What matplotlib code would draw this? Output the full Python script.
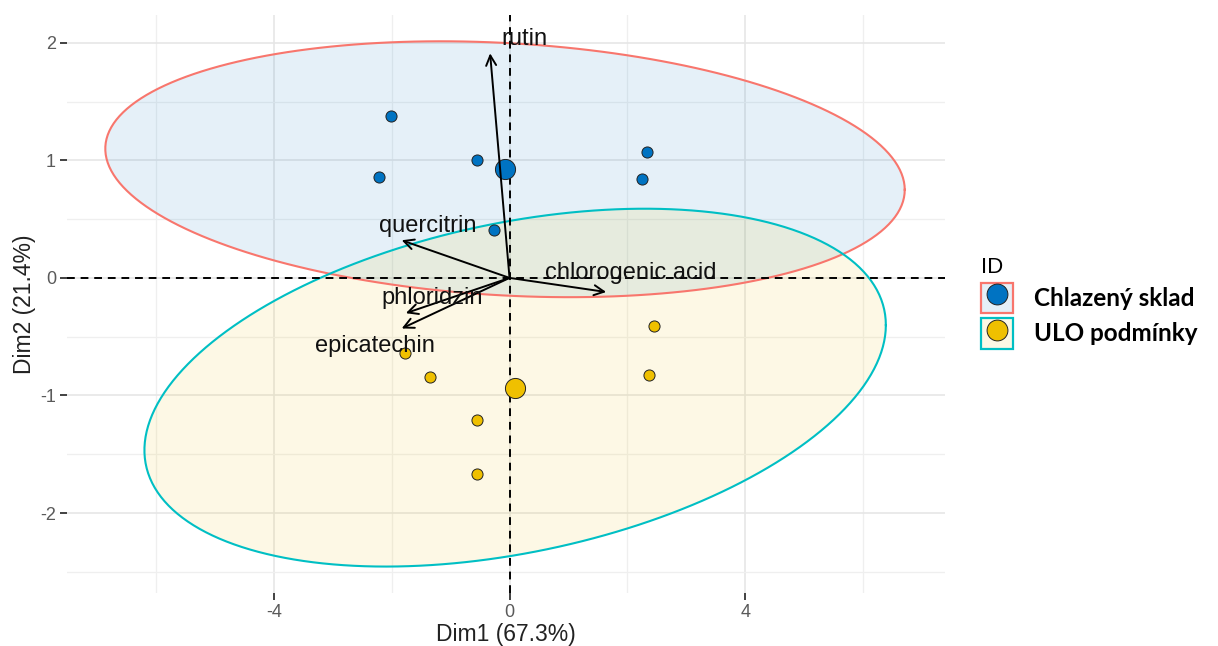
import numpy as np
import matplotlib
matplotlib.use("Agg")
import matplotlib.pyplot as plt
from matplotlib.patches import Patch
from matplotlib.lines import Line2D
from matplotlib.legend_handler import HandlerTuple

plt.rcParams["axes.unicode_minus"] = False

# skóre jednotlivých vzorků (Dim1, Dim2)
chlaz_x = [-2.02, -2.22, -0.55, -0.26, 2.34, 2.25]
chlaz_y = [1.375, 0.855, 1.00, 0.405, 1.07, 0.84]
ulo_x = [-1.77, -1.35, -0.56, -0.56, 2.45, 2.36]
ulo_y = [-0.635, -0.845, -1.21, -1.67, -0.41, -0.83]

groups = ["Chlazený sklad", "ULO podmínky"]
point_colors = ["#0073C2", "#EFC000"]
ellipse_edges = ["#F8766D", "#00BFC4"]

# proměnné (šipky) a pozice popisků
var_names = ["rutin", "quercitrin", "chlorogenic acid", "phloridzin", "epicatechin"]
var_x = [-0.33, -1.83, 1.64, -1.76, -1.83]
var_y = [1.91, 0.32, -0.12, -0.30, -0.43]
lab_x = [0.26, -1.38, 2.05, -1.32, -2.28]
lab_y = [2.03, 0.44, 0.04, -0.17, -0.58]


def norm_ellipse(x, y, level=0.95, n=200):
    x = np.asarray(x)
    y = np.asarray(y)
    dfd = len(x) - 1
    # F kvantil pro dfn = 2 v uzavřeném tvaru
    fq = dfd / 2 * ((1 - level) ** (-2 / dfd) - 1)
    radius = np.sqrt(2 * fq)
    cov = np.cov(x, y)
    chol = np.linalg.cholesky(cov)
    t = np.linspace(0, 2 * np.pi, n)
    circle = np.column_stack([np.cos(t), np.sin(t)])
    pts = radius * circle @ chol.T
    return pts[:, 0] + x.mean(), pts[:, 1] + y.mean()


fig = plt.figure(figsize=(12.18, 6.46), dpi=100)
ax = fig.add_axes([67 / 1218, 1 - 593 / 646, (945 - 67) / 1218, (593 - 15) / 646])

ax.set_xlim(-7.51, 7.39)
ax.set_ylim(-2.68, 2.236)

for s in ax.spines.values():
    s.set_visible(False)

ax.set_xticks([-4, 0, 4])
ax.set_yticks([-2, -1, 0, 1, 2])
ax.set_xticks([-6, -2, 2, 6], minor=True)
ax.set_yticks([-2.5, -1.5, -0.5, 0.5, 1.5], minor=True)
ax.grid(True, which="major", color="#E6E6E6", lw=1.2, zorder=0)
ax.grid(True, which="minor", color="#EFEFEF", lw=0.9, zorder=0)
ax.tick_params(which="major", length=5, width=1.3, color="#333333",
               labelcolor="#5A5A5A", labelsize=13, pad=3)
ax.tick_params(which="minor", length=0)
ax.set_axisbelow(True)

all_x = [chlaz_x, ulo_x]
all_y = [chlaz_y, ulo_y]

for gx, gy, pc, ec in zip(all_x, all_y, point_colors, ellipse_edges):
    ex, ey = norm_ellipse(gx, gy)
    ax.fill(ex, ey, facecolor=pc, alpha=0.1, edgecolor="none", zorder=1)
    ax.plot(ex, ey, color=ec, lw=1.5, zorder=2)

ax.axhline(0, color="black", ls=(0, (4, 3)), lw=1.4, zorder=3)
ax.axvline(0, color="black", ls=(0, (4, 3)), lw=1.4, zorder=3)

for gx, gy, pc in zip(all_x, all_y, point_colors):
    ax.scatter(gx, gy, s=64, color=pc, edgecolor="#222222", linewidth=0.7, zorder=4)
    ax.scatter(np.mean(gx), np.mean(gy), s=210, color=pc, edgecolor="#222222",
               linewidth=0.7, zorder=4)

for name, vx, vy, lx, ly in zip(var_names, var_x, var_y, lab_x, lab_y):
    ax.annotate("", xy=(vx, vy), xytext=(0, 0),
                arrowprops=dict(arrowstyle="->", color="black", lw=1.4,
                                mutation_scale=18, shrinkA=0, shrinkB=0),
                zorder=5)
    ax.text(lx, ly, name, ha="center", va="center", fontsize=17,
            family="Liberation Sans", color="#111111", zorder=6)

ax.set_xlabel("Dim1 (67.3%)", fontsize=16.5, family="Liberation Sans",
              color="#222222", labelpad=1)
ax.set_ylabel("Dim2 (21.4%)", fontsize=16.5, family="Liberation Sans",
              color="#222222", labelpad=3)
for lab in ax.get_xticklabels() + ax.get_yticklabels():
    lab.set_family("Liberation Sans")

handles = []
for pc, ec in zip(point_colors, ellipse_edges):
    box = Patch(facecolor=matplotlib.colors.to_rgba(pc, 0.1), edgecolor=ec, lw=1.6)
    dot = Line2D([], [], marker="o", ls="none", markersize=15,
                 markerfacecolor=pc, markeredgecolor="#222222", markeredgewidth=0.7)
    handles.append((box, dot))

leg = fig.legend(handles, groups, handler_map={tuple: HandlerTuple(ndivide=1)},
                 loc="upper left", bbox_to_anchor=(964 / 1218, 1 - 240 / 646),
                 frameon=False, title="ID", alignment="left",
                 prop={"family": "Lato", "weight": "bold", "size": 17.5},
                 title_fontproperties={"family": "Liberation Sans", "size": 16},
                 handlelength=1.3, handleheight=1.55, handletextpad=0.9,
                 labelspacing=0.2, borderpad=0.2)

fig.savefig("out.png", dpi=100, facecolor="white")
